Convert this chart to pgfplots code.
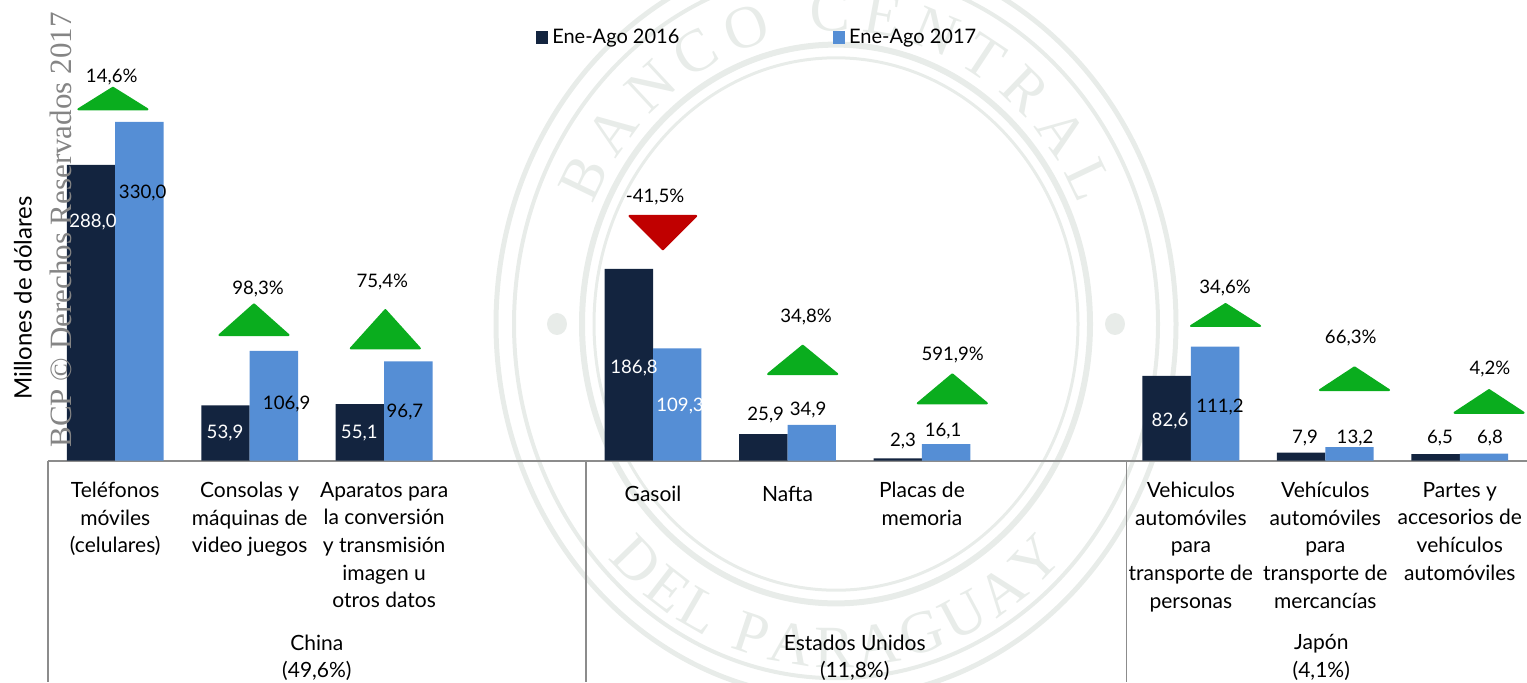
\documentclass[border=0pt]{standalone}
\usepackage{fontspec}
\setmainfont{Lato}
\newfontfamily\serifwm{Liberation Serif}
\usepackage{pgfplots}
\pgfplotsset{compat=1.18}
\usetikzlibrary{decorations.text}
\definecolor{c16}{HTML}{13243F}
\definecolor{c17}{HTML}{558ED5}
\definecolor{tg}{HTML}{0AAD1E}
\definecolor{tr}{HTML}{C00000}
\definecolor{seal}{HTML}{E8ECE9}
\definecolor{axg}{HTML}{8C8C8C}
\definecolor{wm}{HTML}{858585}
\newcommand\lab{\fontsize{10.5}{13.8}\selectfont}
\newcommand\val{\fontsize{9.3}{11}\selectfont}
\begin{document}
\begin{tikzpicture}
\path[use as bounding box] (0,0) rectangle (763.5pt,-341pt);
% faint seal watermark
\begin{scope}[shift={(418pt,-162pt)}, yscale=1.1]
 \draw[seal, line width=2.5pt] (0,0) circle[radius=170pt];
 \draw[seal, line width=2pt] (0,0) circle[radius=161pt];
 \draw[seal, line width=3pt] (0,0) circle[radius=127pt];
 \draw[seal, line width=1.5pt] (0,0) circle[radius=121pt];
 \fill[seal] (-139.5pt,0) circle[radius=5pt];
 \fill[seal] (139.5pt,0) circle[radius=5pt];
 \path[decorate, decoration={text along path, text align={fit to path}, text={|\serifwm\fontsize{30}{30}\selectfont\color{seal}|BANCO CENTRAL}}] (156:133pt) arc[start angle=156, end angle=24, radius=133pt];
 \path[decorate, decoration={text along path, text align={fit to path}, text={|\serifwm\fontsize{30}{30}\selectfont\color{seal}|DEL PARAGUAY}}] (223:156pt) arc[start angle=223, end angle=317, radius=156pt];
\end{scope}
\begin{axis}[
 at={(24pt,-230.35pt)}, anchor=south west, scale only axis,
 width=739.5pt, height=230.35pt,
 xmin=-0.5, xmax=10.5, ymin=0, ymax=448.6,
 clip=false,
 hide y axis,
 axis x line*=bottom,
 x axis line style={draw=axg, line width=0.9pt, -},
 xtick={0,1,2,4,5,6,8,9,10},
 xticklabels={{Teléfonos\\móviles\\(celulares)}, {Consolas y\\máquinas de\\video juegos}, {Aparatos para\\la conversión\\y transmisión\\imagen u\\otros datos}, Gasoil, Nafta, {Placas de\\memoria}, {Vehiculos\\automóviles\\para\\transporte de\\personas}, {Vehículos\\automóviles\\para\\transporte de\\mercancías}, {Partes y\\accesorios de\\vehículos\\automóviles}},
 major tick length=0pt,
 xticklabel style={align=center, font=\lab, anchor=north, yshift=-7.2pt, execute at begin node=\strut},
 legend style={draw=none, fill=none, at={(axis description cs:0.33,0.918)}, anchor=west,
   legend columns=2, inner sep=0pt, font=\fontsize{10}{12}\selectfont,
   /tikz/every even column/.append style={column sep=75pt}, cells={anchor=west}},
]
\addlegendimage{legend image code/.code={\fill[c16] (0pt,-3pt) rectangle (5.5pt,3pt);}}
\addlegendentry{Ene-Ago 2016}
\addlegendimage{legend image code/.code={\fill[c17] (0pt,-3pt) rectangle (5.5pt,3pt);}}
\addlegendentry{Ene-Ago 2017}
% bars
\addplot[ybar, bar width=0.36, bar shift=-0.18, fill=c16, draw=none, forget plot] coordinates {(0,288.0) (1,53.9) (2,55.1) (4,186.8) (5,25.9) (6,2.3) (8,82.6) (9,7.9) (10,6.5)};
\addplot[ybar, bar width=0.36, bar shift=0.18, fill=c17, draw=none, forget plot] coordinates {(0,330.0) (1,106.9) (2,96.7) (4,109.3) (5,34.9) (6,16.1) (8,111.2) (9,13.2) (10,6.8)};
% change triangles
\pgfplotsset{tri/.style={fill=tg, draw=tg, line width=1pt, line join=round, forget plot}}
\addplot[tri] coordinates {(-0.274,342.2) (-0.017,363.2) (0.240,342.2)} -- cycle;
\addplot[tri] coordinates {(0.775,122.4) (1.032,152.3) (1.289,122.4)} -- cycle;
\addplot[tri] coordinates {(1.752,109.4) (2.009,146.7) (2.266,109.4)} -- cycle;
\addplot[tri, fill=tr, draw=tr] coordinates {(3.825,238.3) (4.073,205.8) (4.321,238.3)} -- cycle;
\addplot[tri] coordinates {(4.856,84.4) (5.113,112.0) (5.370,84.4)} -- cycle;
\addplot[tri] coordinates {(5.969,55.9) (6.226,84.1) (6.483,55.9)} -- cycle;
\addplot[tri] coordinates {(8.001,131.2) (8.258,152.6) (8.515,131.2)} -- cycle;
\addplot[tri] coordinates {(8.960,68.8) (9.217,90.9) (9.474,68.8)} -- cycle;
\addplot[tri] coordinates {(9.961,46.7) (10.218,68.8) (10.475,46.7)} -- cycle;
% value labels (white, inside bars)
\addplot[draw=none, mark=none, forget plot, nodes near coords, point meta=explicit symbolic,
  every node near coord/.append style={anchor=center, font=\val, text=white, inner sep=0pt}]
  table[meta=l, row sep=\\] {x y l\\ -0.165 232.7 288,0\\ 0.8165 26.7 53,9\\ 1.815 26.7 55,1\\ 3.859 90.0 186,8\\ 4.201 53.3 109,3\\ 7.845 38.7 82,6\\};
% value labels (black)
\addplot[draw=none, mark=none, forget plot, nodes near coords, point meta=explicit symbolic,
  every node near coord/.append style={anchor=center, font=\val, text=black, inner sep=0pt}]
  table[meta=l, row sep=\\] {x y l\\ 0.204 260.4 330,0\\ 1.275 55.2 106,9\\ 2.155 47.7 96,7\\ 4.838 44.5 25,9\\ 5.153 49.4 34,9\\ 5.859 19.2 2,3\\ 6.157 29.2 16,1\\ 8.217 52.6 111,2\\ 8.849 21.8 7,9\\ 9.221 21.8 13,2\\ 9.853 21.8 6,5\\ 10.225 21.8 6,8\\};
% percentage change labels
\addplot[draw=none, mark=none, forget plot, nodes near coords={\pgfplotspointmeta\%}, point meta=explicit symbolic,
  every node near coord/.append style={anchor=center, font=\val, text=black, inner sep=0pt}]
  table[meta=l, row sep=\\] {x y l\\ -0.026 373.9 14,6\\ 1.063 167.2 98,3\\ 1.986 173.7 75,4\\ 4.015 256.5 -41,5\\ 5.138 140.2 34,8\\ 6.229 102.9 591,9\\ 8.254 167.9 34,6\\ 9.189 119.2 66,3\\ 10.225 89.0 4,2\\};
% group separators and group labels
\draw[axg, line width=0.75pt] (axis cs:-0.5,0) -- ++(0pt,-110.7pt);
\draw[axg, line width=0.75pt] (axis cs:3.5,0) -- ++(0pt,-110.7pt);
\draw[axg, line width=0.75pt] (axis cs:7.52,0) -- ++(0pt,-110.7pt);
\node[font=\lab, align=center, anchor=north, yshift=-83.5pt, execute at begin node=\strut] at (axis cs:1.5,0) {China\\(49,6\%)};
\node[font=\lab, align=center, anchor=north, yshift=-83.5pt, execute at begin node=\strut] at (axis cs:5.5,0) {Estados Unidos\\(11,8\%)};
\node[font=\lab, align=center, anchor=north, yshift=-83.5pt, execute at begin node=\strut] at (axis cs:8.97,0) {Japón\\(4,1\%)};
\end{axis}
\node[rotate=90, anchor=base, font=\fontsize{12}{14}\selectfont] at (15.85pt,-149pt) {Millones de dólares};
\node[rotate=90, anchor=base, text=wm, font=\serifwm\fontsize{15.5}{16}\selectfont, inner sep=0pt] at (35.5pt,-115pt) {BCP © Derechos Reservados 2017};
\end{tikzpicture}
\end{document}
